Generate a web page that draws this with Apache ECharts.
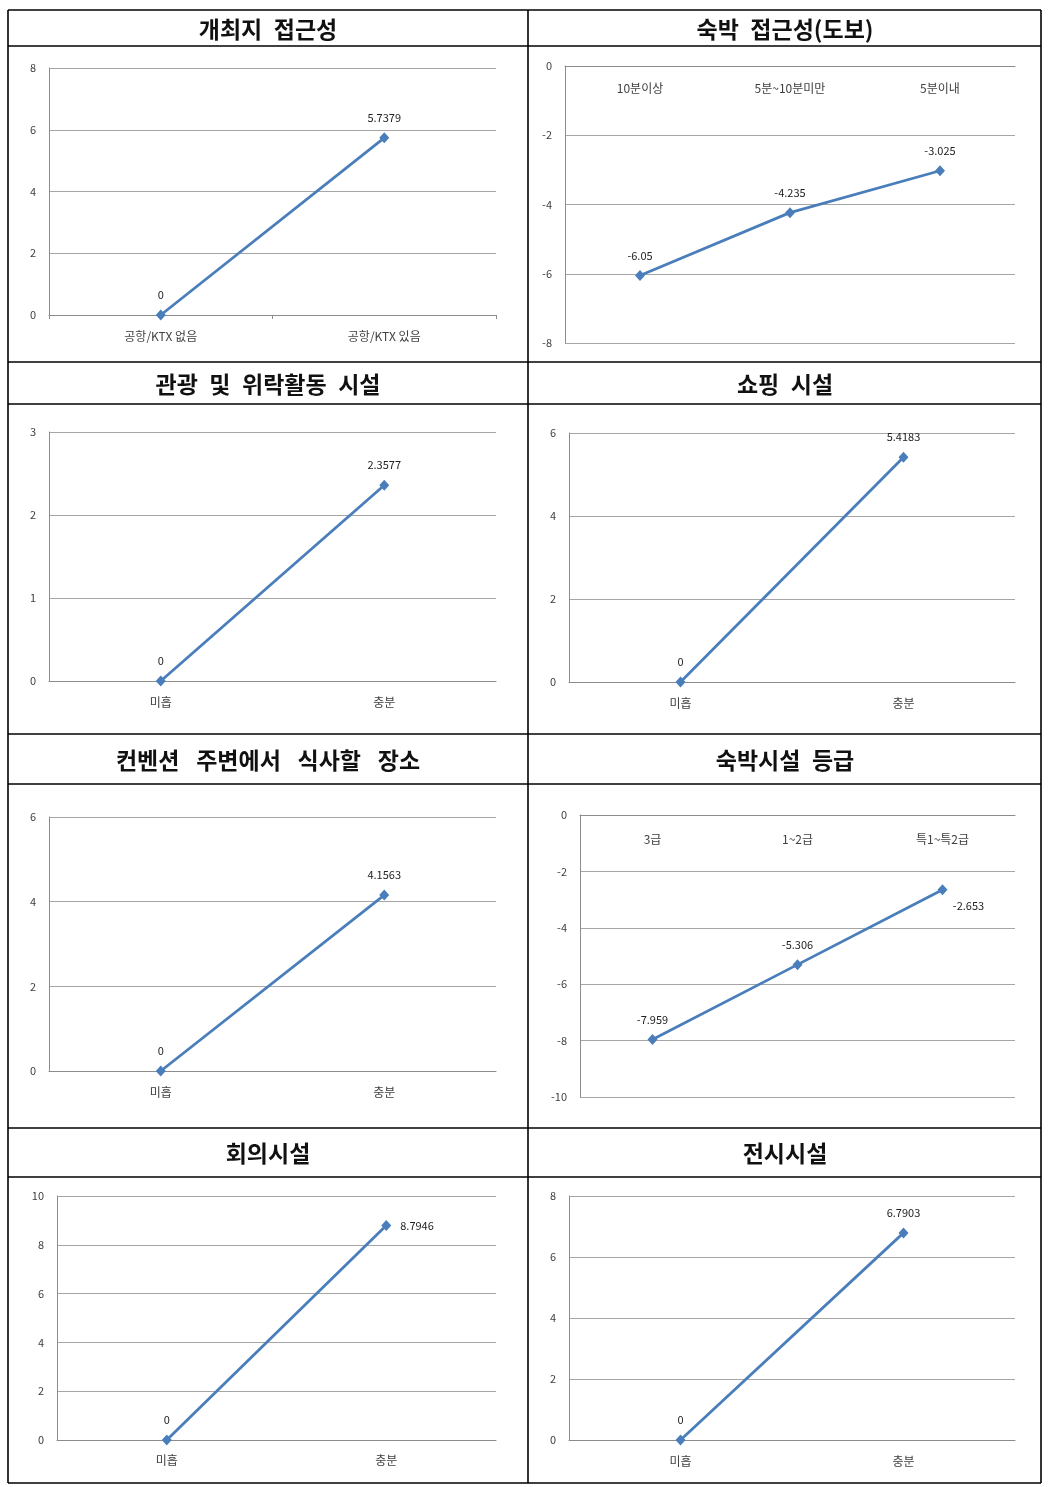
<!DOCTYPE html>
<html>
<head>
<meta charset="utf-8">
<script src="https://cdn.jsdelivr.net/npm/echarts@6/dist/echarts.min.js"></script>
<style>
html,body{margin:0;padding:0;background:#fff;}
#c{width:1048px;height:1487px;}
</style>
</head>
<body>
<div id="c"></div>
<script>
// ---- data ----
const titles = ['개최지 접근성', '숙박 접근성(도보)', '관광 및 위락활동 시설', '쇼핑 시설',
                '컨벤션 주변에서 식사할 장소', '숙박시설 등급', '회의시설', '전시시설'];
const cats1 = ['공항/KTX 없음', '공항/KTX 있음'];
const vals1 = [0, 5.7379];
const cats2 = ['10분이상', '5분~10분미만', '5분이내'];
const vals2 = [-6.05, -4.235, -3.025];
const cats3 = ['미흡', '충분'];
const vals3 = [0, 2.3577];
const cats4 = ['미흡', '충분'];
const vals4 = [0, 5.4183];
const cats5 = ['미흡', '충분'];
const vals5 = [0, 4.1563];
const cats6 = ['3급', '1~2급', '특1~특2급'];
const vals6 = [-7.959, -5.306, -2.653];
const cats7 = ['미흡', '충분'];
const vals7 = [0, 8.7946];
const cats8 = ['미흡', '충분'];
const vals8 = [0, 6.7903];
// y axis ranges: [min, max, interval]
const yRanges = [[0, 8, 2], [-8, 0, 2], [0, 3, 1], [0, 6, 2], [0, 6, 2], [-10, 0, 2], [0, 10, 2], [0, 8, 2]];

const allCats = [cats1, cats2, cats3, cats4, cats5, cats6, cats7, cats8];
const allVals = [vals1, vals2, vals3, vals4, vals5, vals6, vals7, vals8];

// ---- layout (styling) ----
const FONT = '"Noto Sans CJK KR", "Noto Sans", sans-serif';
const grids = [
  {left: 49, top: 68, width: 447, height: 247},
  {left: 565, top: 66, width: 450, height: 277},
  {left: 49, top: 432, width: 447, height: 249},
  {left: 569, top: 433, width: 446, height: 249},
  {left: 49, top: 817, width: 447, height: 254},
  {left: 580, top: 815, width: 435, height: 282},
  {left: 57, top: 1196, width: 439, height: 244},
  {left: 569, top: 1196, width: 446, height: 244}
];
const axisTop = [false, true, false, false, false, true, false, false];
const catMargins = [15, 16, 15, 15, 15, 18, 14, 15];
const titlePos = [[268, 29], [785, 29], [268, 384], [785, 384], [268, 760], [785, 760], [268, 1153], [785, 1153]];
const titleGap = ['\u2002', '\u2002', '\u2002', '\u2002', '\u2002 ', '\u2002', '\u2002', '\u2002'];
const hLines = [10, 46, 362, 404, 734, 784, 1128, 1177, 1483];
const vLines = [8, 528, 1041];
// label placement overrides per chart / point
const labelOverrides = {
  '5-2': {position: 'bottom', offset: [26, 0], distance: 5},
  '6-1': {position: 'right', distance: 9}
};

const BLUE = '#4a7ebb';
const graphics = [];
hLines.forEach(y => graphics.push({type: 'line', shape: {x1: 8, y1: y, x2: 1041, y2: y}, style: {stroke: '#000', lineWidth: 1.6}, z: 100}));
vLines.forEach(x => graphics.push({type: 'line', shape: {x1: x, y1: 10, x2: x, y2: 1483}, style: {stroke: '#000', lineWidth: 1.6}, z: 100}));
titles.forEach((t, i) => graphics.push({
  type: 'text', x: titlePos[i][0], y: titlePos[i][1], z: 100,
  style: {text: t.split(' ').join(titleGap[i]), font: 'bold 23px ' + FONT, fill: '#111', textAlign: 'center', textVerticalAlign: 'middle'}
}));

const option = {
  animation: false,
  backgroundColor: '#fff',
  graphic: graphics,
  grid: grids.map(g => Object.assign({containLabel: false}, g)),
  xAxis: allCats.map((c, i) => ({
    type: 'category', gridIndex: i, data: c, boundaryGap: true,
    position: axisTop[i] ? 'top' : 'bottom',
    axisLine: {show: true, onZero: false, lineStyle: {color: '#8c8c8c', width: 1}},
    axisTick: {show: i === 0, length: 4, lineStyle: {color: '#8c8c8c'}},
    axisLabel: {color: '#404040', fontSize: 12, fontFamily: FONT, margin: catMargins[i], inside: axisTop[i]},
    splitLine: {show: false}
  })),
  yAxis: yRanges.map((r, i) => ({
    type: 'value', gridIndex: i, min: r[0], max: r[1], interval: r[2],
    axisLine: {show: true, lineStyle: {color: '#8c8c8c', width: 1}},
    axisTick: {show: false},
    axisLabel: {color: '#404040', fontSize: 11, fontFamily: FONT, margin: 13},
    splitLine: {show: true, lineStyle: {color: '#a6a6a6', width: 1}}
  })),
  series: allVals.map((v, i) => ({
    type: 'line', xAxisIndex: i, yAxisIndex: i,
    symbol: 'diamond', symbolSize: [10, 11],
    lineStyle: {color: BLUE, width: 2.8},
    itemStyle: {color: BLUE},
    label: {show: true, position: 'top', distance: 9, color: '#222', fontSize: 11, fontFamily: FONT},
    data: v.map((val, j) => {
      const o = labelOverrides[i + '-' + j];
      return o ? {value: val, label: o} : {value: val};
    })
  }))
};

const chart = echarts.init(document.getElementById('c'), null, {renderer: 'canvas'});
chart.setOption(option);
</script>
</body>
</html>
